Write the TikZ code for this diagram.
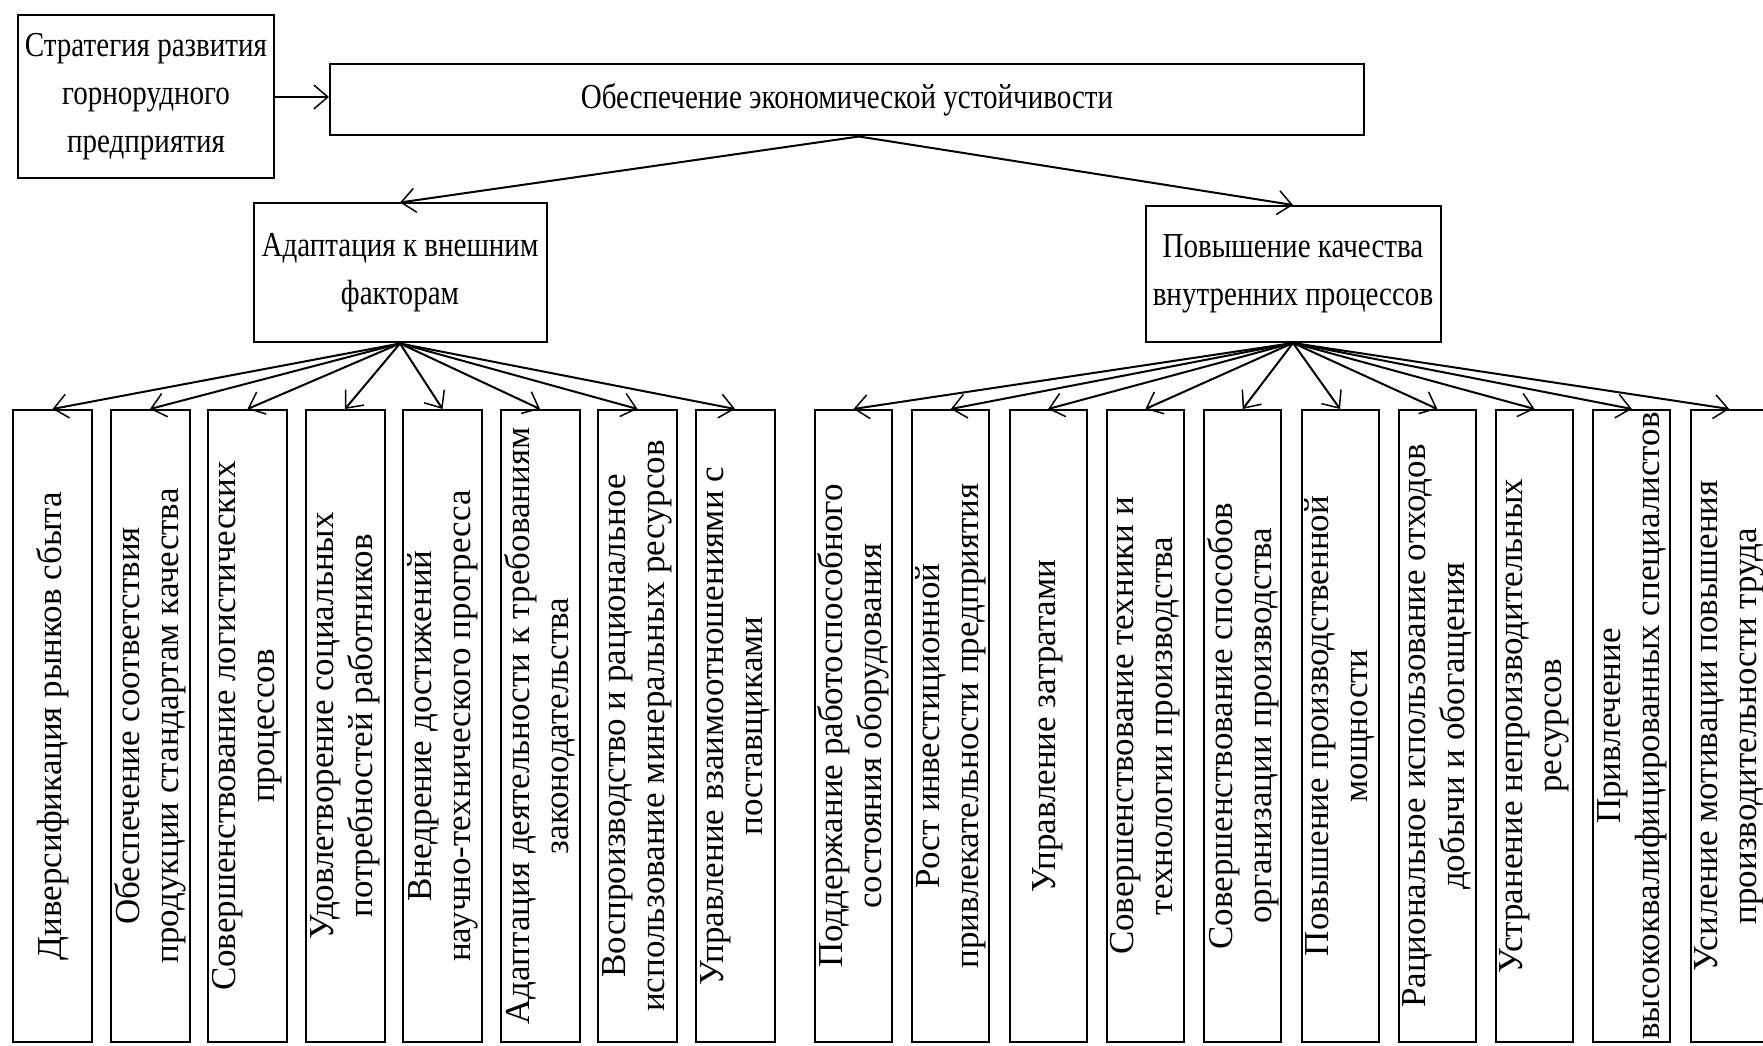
\documentclass[tikz,border=0pt]{standalone}
\usepackage{fontspec}
\setmainfont{Liberation Serif}
\newfontfamily\narrowfont[FakeStretch=0.83]{Liberation Serif}
\usetikzlibrary{arrows.meta}
\tikzset{
  box/.style={draw, line width=2pt, inner sep=0pt, align=center,
    font=\narrowfont\fontsize{35}{48}\selectfont},
  leaf/.style={draw, line width=2pt, rotate=90, minimum width=632pt,
    minimum height=79pt, inner sep=0pt, align=center,
    font=\fontsize{35}{39}\selectfont},
  link/.style={line width=2pt,
    -{Straight Barb[length=14pt,width=24pt,line width=1.5pt]}}
}
\begin{document}
\begin{tikzpicture}[x=1pt,y=1pt]
\useasboundingbox (0,0) rectangle (1763,1045);
% top level
\node[box, minimum width=256pt, minimum height=163pt] (strat) at (146,948) {Стратегия развития\\горнорудного\\предприятия};
\node[box, minimum width=1034pt, minimum height=71pt] (main) at (847,945) {Обеспечение экономической устойчивости};
\coordinate (fork) at ([xshift=12pt]main.south);
\draw[link] (strat.east) -- (strat.east -| main.west);
% second level
\node[box, minimum width=293pt, minimum height=139pt] (adapt) at (400,772) {Адаптация к внешним\\факторам};
\node[box, minimum width=295pt, minimum height=136pt] (inner) at (1293,771) {Повышение качества\\внутренних процессов};
\draw[link] (fork) -- (adapt.north);
\draw[link] (fork) -- (inner.north);
% external factors
\node[leaf] (l1) at (52.5,319) {Диверсификация рынков сбыта};
\node[leaf] (l2) at (150,319) {Обеспечение соответствия\\продукции стандартам качества};
\node[leaf] (l3) at (247.5,319) {Совершенствование логистических\\процессов};
\node[leaf] (l4) at (345,319) {Удовлетворение социальных\\потребностей работников};
\node[leaf] (l5) at (442.5,319) {Внедрение достижений\\научно-технического прогресса};
\node[leaf] (l6) at (540,319) {Адаптация деятельности к требованиям\\законодательства};
\node[leaf] (l7) at (637.5,319) {Воспроизводство и рациональное\\использование минеральных ресурсов};
\node[leaf] (l8) at (735,319) {Управление взаимоотношениями с\\поставщиками};
% internal processes
\node[leaf, minimum height=77pt] (r1) at (853.5,319) {Поддержание работоспособного\\состояния оборудования};
\node[leaf, minimum height=77pt] (r2) at (950.8,319) {Рост инвестиционной\\привлекательности предприятия};
\node[leaf, minimum height=77pt] (r3) at (1048.1,319) {Управление затратами};
\node[leaf, minimum height=77pt] (r4) at (1145.4,319) {Совершенствование техники и\\технологии производства};
\node[leaf, minimum height=77pt] (r5) at (1242.7,319) {Совершенствование способов\\организации производства};
\node[leaf, minimum height=77pt] (r6) at (1340,319) {Повышение производственной\\мощности};
\node[leaf, minimum height=77pt] (r7) at (1437.3,319) {Рациональное использование отходов\\добычи и обогащения};
\node[leaf, minimum height=77pt] (r8) at (1534.6,319) {Устранение непроизводительных\\ресурсов};
\node[leaf, minimum height=77pt] (r9) at (1631.9,319) {Привлечение\\высококвалифицированных специалистов};
\node[leaf, minimum height=77pt] (r10) at (1729.2,319) {Усиление мотивации повышения\\производительности труда};
% connectors to the leaves
\foreach \n in {l1,l2,l3,l4,l5,l6,l7,l8}
  \draw[link] (adapt.south) -- (\n.east);
\foreach \n in {r1,r2,r3,r4,r5,r6,r7,r8,r9,r10}
  \draw[link] (inner.south) -- (\n.east);
\end{tikzpicture}
\end{document}
